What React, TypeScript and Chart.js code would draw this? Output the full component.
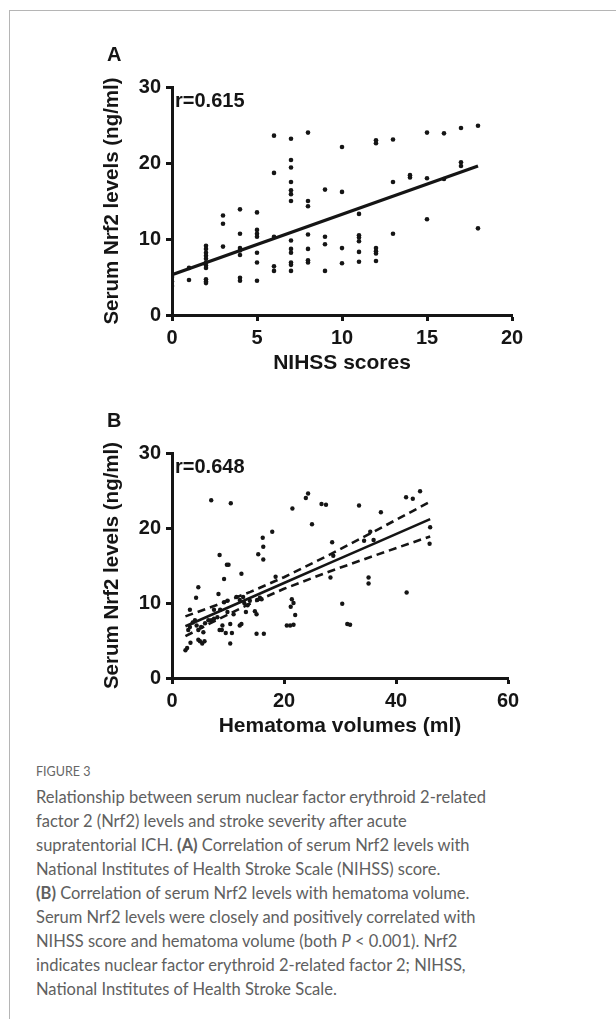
import React, { useEffect, useRef } from "react";
import { Chart, registerables } from "chart.js";

Chart.register(...registerables);

const FONT = "'Liberation Sans', Arial, Helvetica, sans-serif";
const INK = "#151515";

// ---------- Panel A: NIHSS scores vs serum Nrf2 ----------
const nihssScores = [
  0, 0, 0,
  1, 1,
  2, 2, 2, 2, 2, 2, 2, 2, 2, 2, 2,
  3, 3, 3,
  4, 4, 4, 4, 4, 4, 4,
  5, 5, 5, 5, 5, 5, 5,
  6, 6, 6, 6, 6,
  7, 7, 7, 7, 7, 7, 7, 7, 7, 7, 7, 7, 7,
  8, 8, 8, 8, 8, 8, 8,
  9, 9, 9, 9,
  10, 10, 10, 10,
  11, 11, 11, 11, 11, 11,
  12, 12, 12, 12, 12, 12,
  13, 13, 13,
  14, 14,
  15, 15, 15,
  16, 16,
  17, 17, 17,
  18, 18,
];
const nrf2A = [
  5.0, 4.4, 3.8,
  6.2, 4.6,
  9.1, 8.7, 8.2, 7.8, 7.4, 6.9, 6.5, 6.2, 4.7, 4.4, 4.2,
  13.1, 12.0, 9.0,
  13.9, 10.7, 8.8, 8.5, 7.9, 4.9, 4.5,
  13.5, 11.2, 10.7, 10.3, 8.2, 6.9, 4.5,
  23.6, 18.7, 10.3, 6.4, 5.8,
  23.2, 20.4, 19.4, 17.5, 16.4, 15.9, 15.0, 9.8, 8.7, 8.2, 6.9, 6.6, 5.8,
  24.0, 15.0, 14.3, 10.6, 8.7, 7.2, 6.9,
  16.5, 10.3, 9.3, 5.8,
  22.1, 16.2, 8.8, 6.8,
  13.3, 10.5, 10.2, 9.7, 8.3, 7.0,
  23.0, 22.6, 8.8, 8.4, 8.1, 7.1,
  23.1, 17.5, 10.7,
  18.4, 18.1,
  24.0, 18.0, 12.6,
  23.9, 17.9,
  24.6, 20.1, 19.6,
  24.9, 11.4,
];
const fitAX = [0, 18];
const fitAY = [5.3, 19.6];
const xTicksA = [0, 5, 10, 15, 20];

// ---------- Panel B: hematoma volume vs serum Nrf2 ----------
const hematomaVolume = [
  7.0, 10.5, 21.5, 23.9, 24.3, 25.0, 26.7, 27.5, 33.4, 37.3, 41.8, 43.0, 44.3, 46.1, 46.0,
  41.9, 30.4, 31.3, 31.8, 28.6, 28.8, 28.3, 35.1, 35.1, 34.3, 35.4, 36.0,
  17.9, 16.2, 16.3, 15.4, 16.3, 18.5, 12.4, 8.5, 9.8, 10.1, 9.3, 8.3, 4.7, 4.3, 3.2,
  21.4, 21.7, 21.2, 22.0, 20.5, 21.1, 21.7,
  15.1, 16.4,
  2.4, 2.7, 3.3, 2.9, 3.2, 3.7, 4.1, 4.4, 4.7, 5.2, 4.7, 5.0, 5.4, 5.8, 5.6, 5.9,
  6.5, 7.0, 7.5, 7.5, 8.1, 8.5, 8.9, 9.0, 9.6, 10.4, 10.7, 10.4, 9.9, 9.9, 11.0,
  12.1, 12.4, 11.5, 12.1, 12.7, 12.9, 13.2, 13.5, 13.9, 14.8, 15.1, 15.2, 15.7, 16.0,
  9.3, 8.6,
];
const nrf2B = [
  23.7, 23.3, 22.6, 24.0, 24.6, 20.5, 23.2, 23.1, 23.0, 22.1, 24.1, 23.9, 24.9, 20.1, 17.9,
  11.4, 9.9, 7.2, 7.1, 18.1, 16.3, 13.4, 13.4, 12.6, 18.3, 19.5, 18.4,
  19.5, 18.7, 17.5, 16.5, 15.8, 13.5, 13.9, 16.4, 15.1, 15.1, 13.2, 11.2, 12.1, 10.7, 9.1,
  10.5, 10.0, 9.5, 8.4, 7.0, 7.0, 7.1,
  5.9, 5.9,
  3.7, 4.0, 4.7, 6.4, 6.8, 7.4, 7.7, 7.0, 6.4, 6.8, 5.1, 4.9, 4.6, 4.9, 6.1, 7.3,
  7.7, 7.7, 9.1, 7.9, 8.1, 6.4, 6.4, 7.0, 6.0, 7.2, 6.0, 4.6, 8.8, 10.3, 8.5,
  7.0, 7.2, 10.8, 10.4, 10.8, 10.0, 8.8, 9.7, 10.3, 8.9, 8.5, 10.4, 10.7, 10.5,
  10.1, 9.1,
];
const bandX = [2.4, 8, 14, 20, 28, 36, 46.1];
const fitBY = [6.9, 8.74, 10.7, 12.66, 15.28, 17.89, 21.19];
const upperBY = [8.22, 9.74, 11.48, 13.44, 16.39, 19.5, 23.5];
const lowerBY = [5.58, 7.74, 9.93, 11.89, 14.17, 16.28, 18.88];
const xTicksB = [0, 20, 40, 60];

const yTicks = [0, 10, 20, 30];
const yTitle = "Serum Nrf2 levels (ng/ml)";

function pts(xs: number[], ys: number[]) {
  return xs.map((x, i) => ({ x, y: ys[i] }));
}

type PanelCfg = {
  letter: string;
  rText: string;
  xTitle: string;
  xMax: number;
  xTicks: number[];
  datasets: any[];
  padding: { left: number; right: number; top: number; bottom: number };
  yWidth: number;
  xHeight: number;
};

function makeChart(canvas: HTMLCanvasElement, cfg: PanelCfg) {
  const textPlugin = {
    id: "panelText",
    afterDraw(chart: any) {
      const { ctx, chartArea } = chart;
      ctx.save();
      ctx.fillStyle = INK;
      ctx.textBaseline = "middle";
      ctx.textAlign = "left";
      ctx.font = `bold 20px ${FONT}`;
      ctx.fillText(cfg.rText, chartArea.left + 3, chartArea.top + 14);
      ctx.fillText(cfg.letter, chartArea.left - 65, chartArea.top - 32);
      ctx.restore();
    },
  };
  return new Chart(canvas, {
    type: "scatter",
    data: { datasets: cfg.datasets },
    options: {
      animation: false,
      responsive: false,
      layout: { padding: cfg.padding },
      plugins: { legend: { display: false }, tooltip: { enabled: false } },
      scales: {
        x: {
          type: "linear",
          min: 0,
          max: cfg.xMax,
          afterFit: (s: any) => {
            s.height = cfg.xHeight;
          },
          afterBuildTicks: (s: any) => {
            s.ticks = cfg.xTicks.map((v) => ({ value: v }));
          },
          border: { display: true, color: INK, width: 3 },
          grid: {
            display: true,
            drawOnChartArea: false,
            drawTicks: true,
            tickLength: 6,
            tickWidth: 3,
            tickColor: INK,
            color: INK,
          },
          ticks: {
            color: INK,
            padding: 5,
            font: { family: FONT, size: 20, weight: "bold" },
            maxRotation: 0,
          },
          title: {
            display: true,
            text: cfg.xTitle,
            color: INK,
            padding: 0,
            font: { family: FONT, size: 21, weight: "bold" },
          },
        },
        y: {
          type: "linear",
          min: 0,
          max: 30,
          afterFit: (s: any) => {
            s.width = cfg.yWidth;
          },
          afterBuildTicks: (s: any) => {
            s.ticks = yTicks.map((v) => ({ value: v }));
          },
          border: { display: true, color: INK, width: 3 },
          grid: {
            display: true,
            drawOnChartArea: false,
            drawTicks: true,
            tickLength: 6,
            tickWidth: 3,
            tickColor: INK,
            color: INK,
          },
          ticks: {
            color: INK,
            padding: 5,
            font: { family: FONT, size: 20, weight: "bold" },
          },
          title: {
            display: true,
            text: yTitle,
            color: INK,
            padding: 0,
            font: { family: FONT, size: 20.5, weight: "bold" },
          },
        },
      },
    } as any,
    plugins: [textPlugin],
  });
}

export default function App() {
  const refA = useRef<HTMLCanvasElement>(null);
  const refB = useRef<HTMLCanvasElement>(null);

  useEffect(() => {
    const dot = (data: any[], r: number) => ({
      data,
      showLine: false,
      pointRadius: r,
      pointBackgroundColor: INK,
      pointBorderWidth: 0,
      order: 2,
    });
    const line = (data: any[], w: number, dash: number[] = []) => ({
      data,
      showLine: true,
      borderColor: INK,
      borderWidth: w,
      borderDash: dash,
      pointRadius: 0,
      fill: false,
      order: 1,
    });

    const a = makeChart(refA.current!, {
      letter: "A",
      rText: "r=0.615",
      xTitle: "NIHSS scores",
      xMax: 20,
      xTicks: xTicksA,
      datasets: [dot(pts(nihssScores, nrf2A), 2.3), line(pts(fitAX, fitAY), 3.2)],
      padding: { left: 100, right: 104, top: 87, bottom: 4 },
      yWidth: 72,
      xHeight: 61,
    });
    const b = makeChart(refB.current!, {
      letter: "B",
      rText: "r=0.648",
      xTitle: "Hematoma volumes (ml)",
      xMax: 60,
      xTicks: xTicksB,
      datasets: [
        dot(pts(hematomaVolume, nrf2B), 2.2),
        line(pts(bandX, fitBY), 2.6),
        line(pts(bandX, upperBY), 2.6, [8, 5]),
        line(pts(bandX, lowerBY), 2.6, [8, 5]),
      ],
      padding: { left: 100, right: 108, top: 73, bottom: 21 },
      yWidth: 72,
      xHeight: 61,
    });
    return () => {
      a.destroy();
      b.destroy();
    };
  }, []);

  const captionColor = "#606060";
  return (
    <div
      style={{
        position: "absolute",
        left: 0,
        top: 0,
        width: 616,
        height: 1019,
        background: "#fff",
        overflow: "hidden",
      }}
    >
      <div style={{ position: "absolute", left: 9, top: 10, width: 607, height: 1, background: "#b5b5b5" }} />
      <div style={{ position: "absolute", left: 9, top: 10, width: 1, height: 1009, background: "#b5b5b5" }} />
      <canvas
        ref={refA}
        width={616}
        height={380}
        style={{ position: "absolute", left: 0, top: 0, width: 616, height: 380 }}
      />
      <canvas
        ref={refB}
        width={616}
        height={380}
        style={{ position: "absolute", left: 0, top: 380, width: 616, height: 380 }}
      />
      <div
        style={{
          position: "absolute",
          left: 36,
          top: 763,
          fontFamily: "Lato, 'Open Sans', sans-serif",
          fontSize: 12.5,
          lineHeight: "18px",
          color: "#666",
        }}
      >
        FIGURE 3
      </div>
      <div
        style={{
          position: "absolute",
          left: 36,
          top: 785,
          fontFamily: "Lato, 'Open Sans', sans-serif",
          fontSize: 16.5,
          lineHeight: "24px",
          color: captionColor,
          whiteSpace: "nowrap",
        }}
      >
        Relationship between serum nuclear factor erythroid 2-related
        <br />
        factor 2 (Nrf2) levels and stroke severity after acute
        <br />
        supratentorial ICH. <b>(A)</b> Correlation of serum Nrf2 levels with
        <br />
        National Institutes of Health Stroke Scale (NIHSS) score.
        <br />
        <b>(B)</b> Correlation of serum Nrf2 levels with hematoma volume.
        <br />
        Serum Nrf2 levels were closely and positively correlated with
        <br />
        NIHSS score and hematoma volume (both <i>P</i> &lt; 0.001). Nrf2
        <br />
        indicates nuclear factor erythroid 2-related factor 2; NIHSS,
        <br />
        National Institutes of Health Stroke Scale.
      </div>
    </div>
  );
}
